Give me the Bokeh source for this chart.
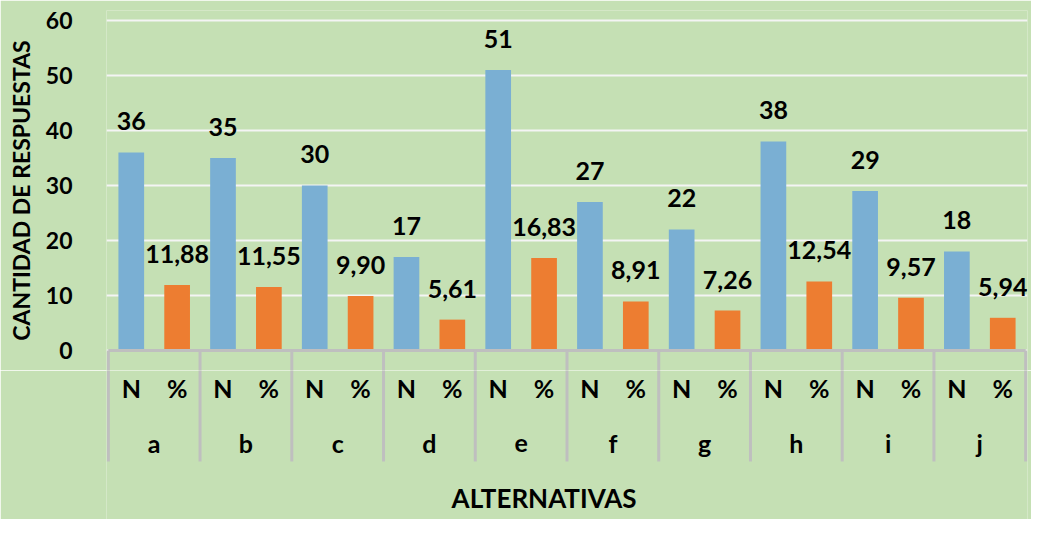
from bokeh.plotting import figure
from bokeh.models import Range1d, FixedTicker, Label, ColumnDataSource
from bokeh.layouts import column
from bokeh.core.properties import value
from bokeh.embed import file_html
from bokeh.resources import INLINE

# ---- data ----
groups = ["a", "b", "c", "d", "e", "f", "g", "h", "i", "j"]
subcats = ["N", "%"]
n_values = [36, 35, 30, 17, 51, 27, 22, 38, 29, 18]
pct_values = [11.88, 11.55, 9.90, 5.61, 16.83, 8.91, 7.26, 12.54, 9.57, 5.94]
y_ticks = [0, 10, 20, 30, 40, 50, 60]

BG = "#C5E0B4"
BLUE = "#7AAFD3"
ORANGE = "#ED7D31"
SEP = "#BFBFBF"
FONT = "Lato"

def fmt(v):
    return f"{v:.2f}".replace(".", ",")

# positions: each group occupies 2 units on the shared x range
xn = [2 * i + 0.5 for i in range(len(groups))]
xp = [2 * i + 1.5 for i in range(len(groups))]
xg = [2 * i + 1.0 for i in range(len(groups))]
bounds = [2 * i for i in range(len(groups) + 1)]

xr = Range1d(-0.04, 20.04)

# ---------- top: bars ----------
p = figure(width=1031, height=370, output_backend="svg", toolbar_location=None,
           x_range=xr, y_range=Range1d(-3.64, 61.8),
           x_axis_location=None, min_border_left=106, min_border_right=4,
           min_border_top=10, min_border_bottom=0)
p.background_fill_color = BG
p.border_fill_color = BG
p.outline_line_color = None
p.xgrid.visible = False
p.ygrid.ticker = FixedTicker(ticks=y_ticks)
p.ygrid.grid_line_color = "#F4F4F4"
p.ygrid.grid_line_width = 2

ax = p.yaxis[0]
ax.ticker = FixedTicker(ticks=y_ticks)
ax.axis_line_color = None
ax.major_tick_line_color = None
ax.minor_tick_line_color = None
ax.major_label_standoff = 28
ax.major_label_text_font = FONT
ax.major_label_text_font_style = "bold"
ax.major_label_text_font_size = "23px"
ax.major_label_text_color = "#000000"
ax.axis_label = "CANTIDAD DE RESPUESTAS"
ax.axis_label_standoff = 8
ax.axis_label_text_font = FONT
ax.axis_label_text_font_style = "bold"
ax.axis_label_text_font_size = "23px"
ax.axis_label_text_color = "#000000"

src_n = ColumnDataSource(dict(x=xn, top=n_values, lab=[str(v) for v in n_values]))
src_p = ColumnDataSource(dict(x=xp, top=pct_values, lab=[fmt(v) for v in pct_values]))
p.vbar(x="x", top="top", bottom=0, width=0.56, source=src_n, fill_color=BLUE, line_color=None)
p.vbar(x="x", top="top", bottom=0, width=0.56, source=src_p, fill_color=ORANGE, line_color=None)

for src in (src_n, src_p):
    p.text(x="x", y="top", text="lab", source=src, text_align="center",
           text_baseline="alphabetic", y_offset=-31,
           text_font=value(FONT), text_font_style="bold", text_font_size="25px",
           text_color="#000000")

p.segment(x0=[bounds[0]], y0=[0], x1=[bounds[-1]], y1=[0], line_color=SEP, line_width=3)
p.segment(x0=bounds, y0=[0] * len(bounds), x1=bounds, y1=[-5] * len(bounds),
          line_color=SEP, line_width=3)

# ---------- bottom: category table (y in pixels, top = 0) ----------
q = figure(width=1031, height=149, output_backend="svg", toolbar_location=None,
           x_range=xr, y_range=Range1d(149, 0),
           x_axis_location=None, y_axis_location=None,
           min_border_left=106, min_border_right=4, min_border_top=0, min_border_bottom=0)
q.background_fill_color = BG
q.border_fill_color = BG
q.outline_line_color = None
q.grid.visible = False

q.segment(x0=bounds, y0=[-2] * len(bounds), x1=bounds, y1=[91] * len(bounds),
          line_color=SEP, line_width=3)

sub_x = xn + xp
sub_t = [subcats[0]] * len(groups) + [subcats[1]] * len(groups)
q.text(x=sub_x, y=[17] * len(sub_x), text=sub_t, text_align="center",
       text_baseline="alphabetic", text_font=value(FONT), text_font_style="bold",
       text_font_size="25px", text_color="#000000")
q.text(x=xg, y=[72] * len(xg), text=groups, text_align="center",
       text_baseline="alphabetic", text_font=value(FONT), text_font_style="bold",
       text_font_size="25px", text_color="#000000")
q.add_layout(Label(x=9.5, y=127, text="ALTERNATIVAS", text_align="center",
                   text_baseline="alphabetic", text_font=FONT, text_font_style="bold",
                   text_font_size="26px", text_color="#000000"))

layout = column(p, q, spacing=0)
open("out.html", "w").write(file_html(layout, INLINE))
